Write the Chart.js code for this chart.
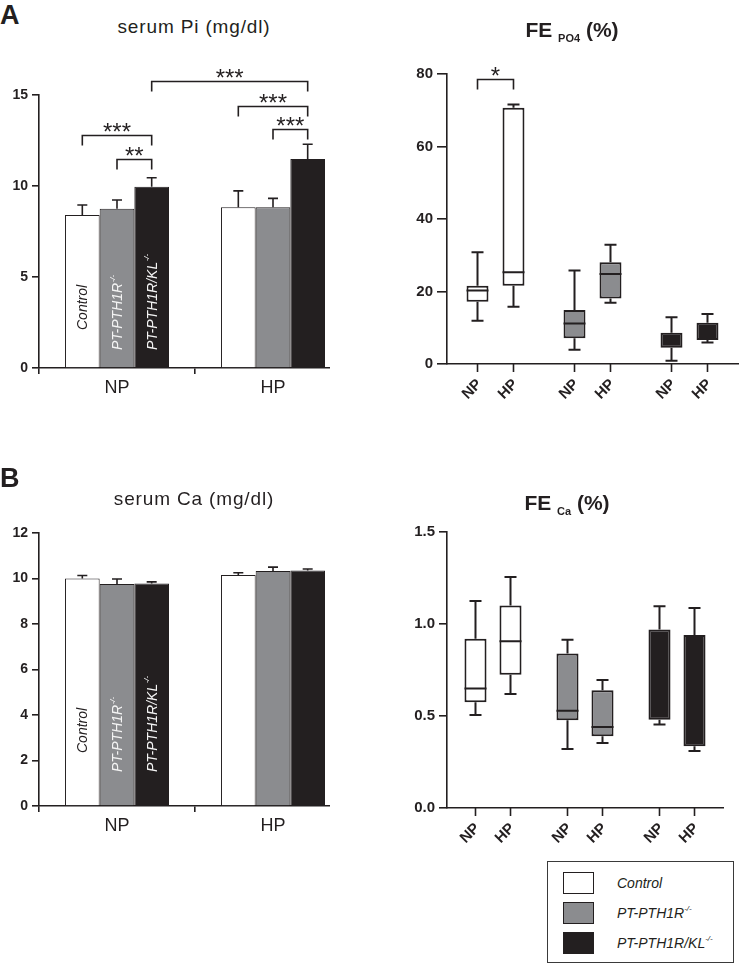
<!DOCTYPE html>
<html>
<head>
<meta charset="utf-8">
<script src="https://cdn.jsdelivr.net/npm/chart.js@4.4.1/dist/chart.umd.min.js"></script>
<style>
  body { margin: 0; background: #fff; font-family: 'Liberation Sans', Arial, sans-serif; color: #231f20; }
  #page { position: relative; width: 739px; height: 964px; overflow: hidden; }
  .wrap { position: absolute; overflow: hidden; }
  .txt { position: absolute; line-height: 1; white-space: nowrap; }
  .letter { font-size: 27px; font-weight: bold; }
  .title { font-size: 19px; letter-spacing: 0.85px; text-align: center; width: 220px; }
  .fe { font-size: 21px; font-weight: bold; text-align: center; width: 200px; }
  .fe .sub { font-size: 11px; position: relative; top: 5px; }
  #legend { position: absolute; left: 547px; top: 861px; width: 185px; height: 100px; border: 1px solid #3a3a3a; }
  .row { position: absolute; left: 15px; height: 23px; }
  .sw { position: absolute; left: 0; top: 0; width: 29px; height: 20px; border: 1.5px solid #231f20; }
  .lab { position: absolute; left: 54px; top: 4px; font-size: 14px; font-style: italic; line-height: 1; white-space: nowrap; }
  .lab sup { font-size: 8px; position: relative; top: -1px; }
</style>
</head>
<body>
<div id="page">
  <div class="wrap" style="left:0;top:40px;width:330px;height:370px"><canvas id="pi" width="360" height="370"></canvas></div>
  <div class="wrap" style="left:370px;top:40px;width:369px;height:370px"><canvas id="fepo" width="369" height="370"></canvas></div>
  <div class="wrap" style="left:0;top:480px;width:330px;height:370px"><canvas id="ca" width="360" height="370"></canvas></div>
  <div class="wrap" style="left:370px;top:480px;width:369px;height:370px"><canvas id="feca" width="369" height="370"></canvas></div>

  <div class="txt letter" style="left:0;top:2px">A</div>
  <div class="txt letter" style="left:0;top:465px">B</div>
  <div class="txt title" style="left:84px;top:17px">serum Pi (mg/dl)</div>
  <div class="txt title" style="left:84px;top:489px">serum Ca (mg/dl)</div>
  <div class="txt fe" style="left:472px;top:19px">FE <span class="sub">PO4</span> (%)</div>
  <div class="txt fe" style="left:467px;top:492px">FE <span class="sub">Ca</span> (%)</div>

  <div id="legend"></div>
</div>

<script>
// groups on the x axis and genotypes (series)
const groups = ['NP', 'HP'];
const genotypes = ['Control', 'PT-PTH1R', 'PT-PTH1R/KL'];
const supers = ['', '-/-', '-/-'];

// serum Pi, mean and SEM, [NP, HP]
const piControl = [8.4, 8.83];
const piPth1r = [8.75, 8.83];
const piKl = [9.96, 11.48];
const piControlErr = [0.56, 0.9];
const piPth1rErr = [0.48, 0.49];
const piKlErr = [0.49, 0.81];

// serum Ca, mean and SEM, [NP, HP]
const caControl = [10.0, 10.15];
const caPth1r = [9.76, 10.33];
const caKl = [9.78, 10.35];
const caControlErr = [0.13, 0.1];
const caPth1rErr = [0.22, 0.17];
const caKlErr = [0.07, 0.07];

// FE PO4 boxes [min, q1, median, q3, max] per genotype
const fePoNP = [[11.9, 17.2, 20.3, 21.6, 30.8], [3.9, 7.1, 11.2, 14.9, 25.8], [0.9, 4.5, 6.5, 8.6, 12.9]];
const fePoHP = [[15.8, 21.6, 25.3, 70.7, 71.6], [16.9, 18.1, 24.8, 28.1, 32.9], [5.9, 6.6, 9.0, 11.4, 13.8]];

// FE Ca boxes [min, q1, median, q3, max] per genotype
const feCaNP = [[0.506, 0.575, 0.65, 0.92, 1.125], [0.32, 0.477, 0.528, 0.84, 0.915], [0.454, 0.48, 0.7, 0.97, 1.097]];
const feCaHP = [[0.62, 0.724, 0.906, 1.10, 1.256], [0.353, 0.39, 0.44, 0.64, 0.695], [0.31, 0.335, 0.6, 0.94, 1.087]];

// significance brackets: from/to = [dataset, category]
const piSig = [
  { from: [0, 0], to: [2, 0], y: 12.8, text: '***' },
  { from: [1, 0], to: [2, 0], y: 11.48, text: '**' },
  { from: [0, 1], to: [2, 1], y: 14.4, text: '***' },
  { from: [1, 1], to: [2, 1], y: 13.13, text: '***' },
  { from: [2, 0], to: [2, 1], y: 15.77, text: '***' }
];
const fePoSig = [
  { from: [0, 0], to: [1, 0], y: 78.5, text: '*' }
];

const ink = '#231f20';
const fills = ['#ffffff', '#8b8c8f', '#231f20'];
const family = "'Liberation Sans', Arial, sans-serif";
Chart.defaults.font.family = family;
Chart.defaults.color = ink;

function supText(ctx, main, sup, x, y, size, style) {
  ctx.font = `${style} ${size}px ${family}`;
  ctx.fillText(main, x, y);
  if (!sup) return;
  const w = ctx.measureText(main).width;
  ctx.font = `${style} ${Math.round(size * 0.6)}px ${family}`;
  ctx.fillText(sup, x + w + 0.5, y - size * 0.4);
}

// upper error bars on the bar charts
const errorBars = {
  id: 'errorBars',
  afterDatasetsDraw(chart, args, opts) {
    const ctx = chart.ctx, y = chart.scales.y;
    ctx.save();
    ctx.strokeStyle = ink;
    ctx.lineWidth = 1.6;
    chart.data.datasets.forEach((ds, i) => {
      chart.getDatasetMeta(i).data.forEach((el, j) => {
        const top = y.getPixelForValue(ds.data[j] + opts.errors[i][j]);
        ctx.beginPath();
        ctx.moveTo(el.x, el.y);
        ctx.lineTo(el.x, top);
        ctx.moveTo(el.x - 5, top);
        ctx.lineTo(el.x + 5, top);
        ctx.stroke();
      });
    });
    ctx.restore();
  }
};

// genotype names written up the NP bars
const barLabels = {
  id: 'barLabels',
  afterDatasetsDraw(chart, args, opts) {
    const ctx = chart.ctx, y = chart.scales.y;
    chart.data.datasets.forEach((ds, i) => {
      const el = chart.getDatasetMeta(i).data[0];
      ctx.save();
      ctx.translate(el.x + 1, y.bottom - opts.offsets[i]);
      ctx.rotate(-Math.PI / 2);
      ctx.textAlign = 'left';
      ctx.textBaseline = 'middle';
      ctx.fillStyle = i === 0 ? ink : '#f4f4f4';
      supText(ctx, genotypes[i], supers[i], 0, 0, 14, 'italic');
      ctx.restore();
    });
  }
};

const brackets = {
  id: 'brackets',
  afterDatasetsDraw(chart, args, opts) {
    const ctx = chart.ctx, y = chart.scales.y;
    ctx.save();
    ctx.strokeStyle = ink;
    ctx.fillStyle = ink;
    ctx.lineWidth = 1.6;
    opts.items.forEach(b => {
      const x1 = chart.getDatasetMeta(b.from[0]).data[b.from[1]].x;
      const x2 = chart.getDatasetMeta(b.to[0]).data[b.to[1]].x;
      const yy = Math.round(y.getPixelForValue(b.y)) + 0.5;
      ctx.beginPath();
      ctx.moveTo(x1, yy + 10);
      ctx.lineTo(x1, yy);
      ctx.lineTo(x2, yy);
      ctx.lineTo(x2, yy + 10);
      ctx.stroke();
      ctx.font = `24px ${family}`;
      ctx.textAlign = 'center';
      ctx.textBaseline = 'alphabetic';
      ctx.fillText(b.text, (x1 + x2) / 2, yy + 4);
    });
    ctx.restore();
  }
};

// whiskers and medians on top of the floating q1-q3 bars
const boxes = {
  id: 'boxes',
  afterDatasetsDraw(chart, args, opts) {
    const ctx = chart.ctx, y = chart.scales.y;
    ctx.save();
    ctx.lineWidth = 2;
    ctx.strokeStyle = ink;
    opts.stats.forEach((set, i) => {
      chart.getDatasetMeta(i).data.forEach((el, j) => {
        const s = set[j].map(v => y.getPixelForValue(v));
        const x = el.x, half = el.width / 2;
        ctx.beginPath();
        ctx.moveTo(x, s[3]); ctx.lineTo(x, s[4]);
        ctx.moveTo(x - opts.cap, s[4]); ctx.lineTo(x + opts.cap, s[4]);
        ctx.moveTo(x, s[1]); ctx.lineTo(x, s[0]);
        ctx.moveTo(x - opts.cap, s[0]); ctx.lineTo(x + opts.cap, s[0]);
        // median is black on black for the last genotype, so leave it out
        if (j < 2) { ctx.moveTo(x - half, s[2]); ctx.lineTo(x + half, s[2]); }
        ctx.stroke();
      });
    });
    ctx.restore();
  }
};

// tick + slanted NP/HP label under every box
const boxTicks = {
  id: 'boxTicks',
  afterDraw(chart) {
    const ctx = chart.ctx, xs = chart.scales.x;
    const base = xs.top;
    ctx.save();
    ctx.strokeStyle = ink;
    ctx.fillStyle = ink;
    ctx.lineWidth = 1.6;
    chart.data.datasets.forEach((ds, i) => {
      chart.getDatasetMeta(i).data.forEach(el => {
        ctx.beginPath();
        ctx.moveTo(el.x, base);
        ctx.lineTo(el.x, base + 8);
        ctx.stroke();
        ctx.save();
        ctx.translate(el.x + 2, base + 18);
        ctx.rotate(-Math.PI / 4);
        ctx.font = `bold 15px ${family}`;
        ctx.textAlign = 'right';
        ctx.textBaseline = 'middle';
        ctx.fillText(ds.label, 0, 0);
        ctx.restore();
      });
    });
    ctx.restore();
  }
};

function barChart(id, cfg) {
  return new Chart(document.getElementById(id), {
    type: 'bar',
    data: {
      labels: groups,
      datasets: cfg.series.map((d, i) => ({
        label: genotypes[i],
        data: d,
        backgroundColor: fills[i],
        borderColor: ink,
        borderWidth: 1
      }))
    },
    options: {
      responsive: false,
      animation: false,
      layout: { padding: { top: cfg.top, right: 9, left: 0, bottom: 0 } },
      datasets: { bar: { categoryPercentage: 0.667, barPercentage: 1 } },
      plugins: {
        legend: { display: false },
        tooltip: { enabled: false },
        errorBars: { errors: cfg.errors },
        barLabels: { offsets: cfg.labelOffsets },
        brackets: { items: cfg.sig }
      },
      scales: {
        x: {
          grid: { drawOnChartArea: false, tickLength: 6, color: ink, lineWidth: 1.6, offset: true },
          border: { color: ink, width: 1.6 },
          ticks: { font: { size: 18 }, color: ink, padding: 3, maxRotation: 0, autoSkip: false },
          afterFit: s => { s.height = cfg.xh; }
        },
        y: {
          min: 0, max: cfg.max,
          ticks: { stepSize: cfg.step, font: { size: 14, weight: 'bold' }, color: ink, padding: 4 },
          grid: { drawOnChartArea: false, tickLength: 7, color: ink, lineWidth: 1.6 },
          border: { color: ink, width: 1.6 },
          afterFit: s => { s.width = 39; }
        }
      }
    },
    plugins: [errorBars, barLabels, brackets]
  });
}

function boxChart(id, cfg) {
  return new Chart(document.getElementById(id), {
    type: 'bar',
    data: {
      labels: genotypes,
      datasets: cfg.stats.map((set, i) => ({
        label: groups[i],
        data: set.map(s => [s[1], s[3]]),
        backgroundColor: fills,
        borderColor: ink,
        borderWidth: 2,
        borderSkipped: false
      }))
    },
    options: {
      responsive: false,
      animation: false,
      layout: { padding: { top: cfg.top, right: cfg.right, left: 0, bottom: 0 } },
      datasets: { bar: { categoryPercentage: cfg.catPct, barPercentage: cfg.barPct } },
      plugins: {
        legend: { display: false },
        tooltip: { enabled: false },
        boxes: { stats: cfg.stats, cap: 6 },
        brackets: { items: cfg.sig }
      },
      scales: {
        x: {
          grid: { display: false },
          ticks: { display: false },
          border: { color: ink, width: 1.6 },
          afterFit: s => { s.height = cfg.xh; }
        },
        y: {
          min: 0, max: cfg.max,
          ticks: {
            stepSize: cfg.step, font: { size: 15, weight: 'bold' }, color: ink, padding: 4,
            callback: v => v.toFixed(cfg.digits)
          },
          grid: { drawOnChartArea: false, tickLength: cfg.tick, color: ink, lineWidth: 1.6 },
          border: { color: ink, width: 1.6 },
          afterFit: s => { s.width = 77; }
        }
      }
    },
    plugins: [boxes, boxTicks, brackets]
  });
}

barChart('pi', {
  series: [piControl, piPth1r, piKl],
  errors: [piControlErr, piPth1rErr, piKlErr],
  sig: piSig, max: 15, step: 5, top: 55, xh: 42,
  labelOffsets: [38, 18, 18]
});

barChart('ca', {
  series: [caControl, caPth1r, caKl],
  errors: [caControlErr, caPth1rErr, caKlErr],
  sig: [], max: 12, step: 2, top: 53, xh: 44,
  labelOffsets: [53, 34, 34]
});

boxChart('fepo', {
  stats: [fePoNP, fePoHP], sig: fePoSig, max: 80, step: 20, digits: 0,
  top: 34, right: 1, xh: 46, tick: 10, catPct: 0.742, barPct: 0.61
});

boxChart('feca', {
  stats: [feCaNP, feCaHP], sig: [], max: 1.5, step: 0.5, digits: 1,
  top: 52, right: 16, xh: 42, tick: 8, catPct: 0.761, barPct: 0.63
});

// legend
const legend = document.getElementById('legend');
genotypes.forEach((g, i) => {
  const row = document.createElement('div');
  row.className = 'row';
  row.style.top = (10 + i * 30) + 'px';
  row.innerHTML = `<div class="sw" style="background:${fills[i]}"></div>` +
    `<div class="lab">${g}${supers[i] ? '<sup>' + supers[i] + '</sup>' : ''}</div>`;
  legend.appendChild(row);
});
</script>
</body>
</html>
